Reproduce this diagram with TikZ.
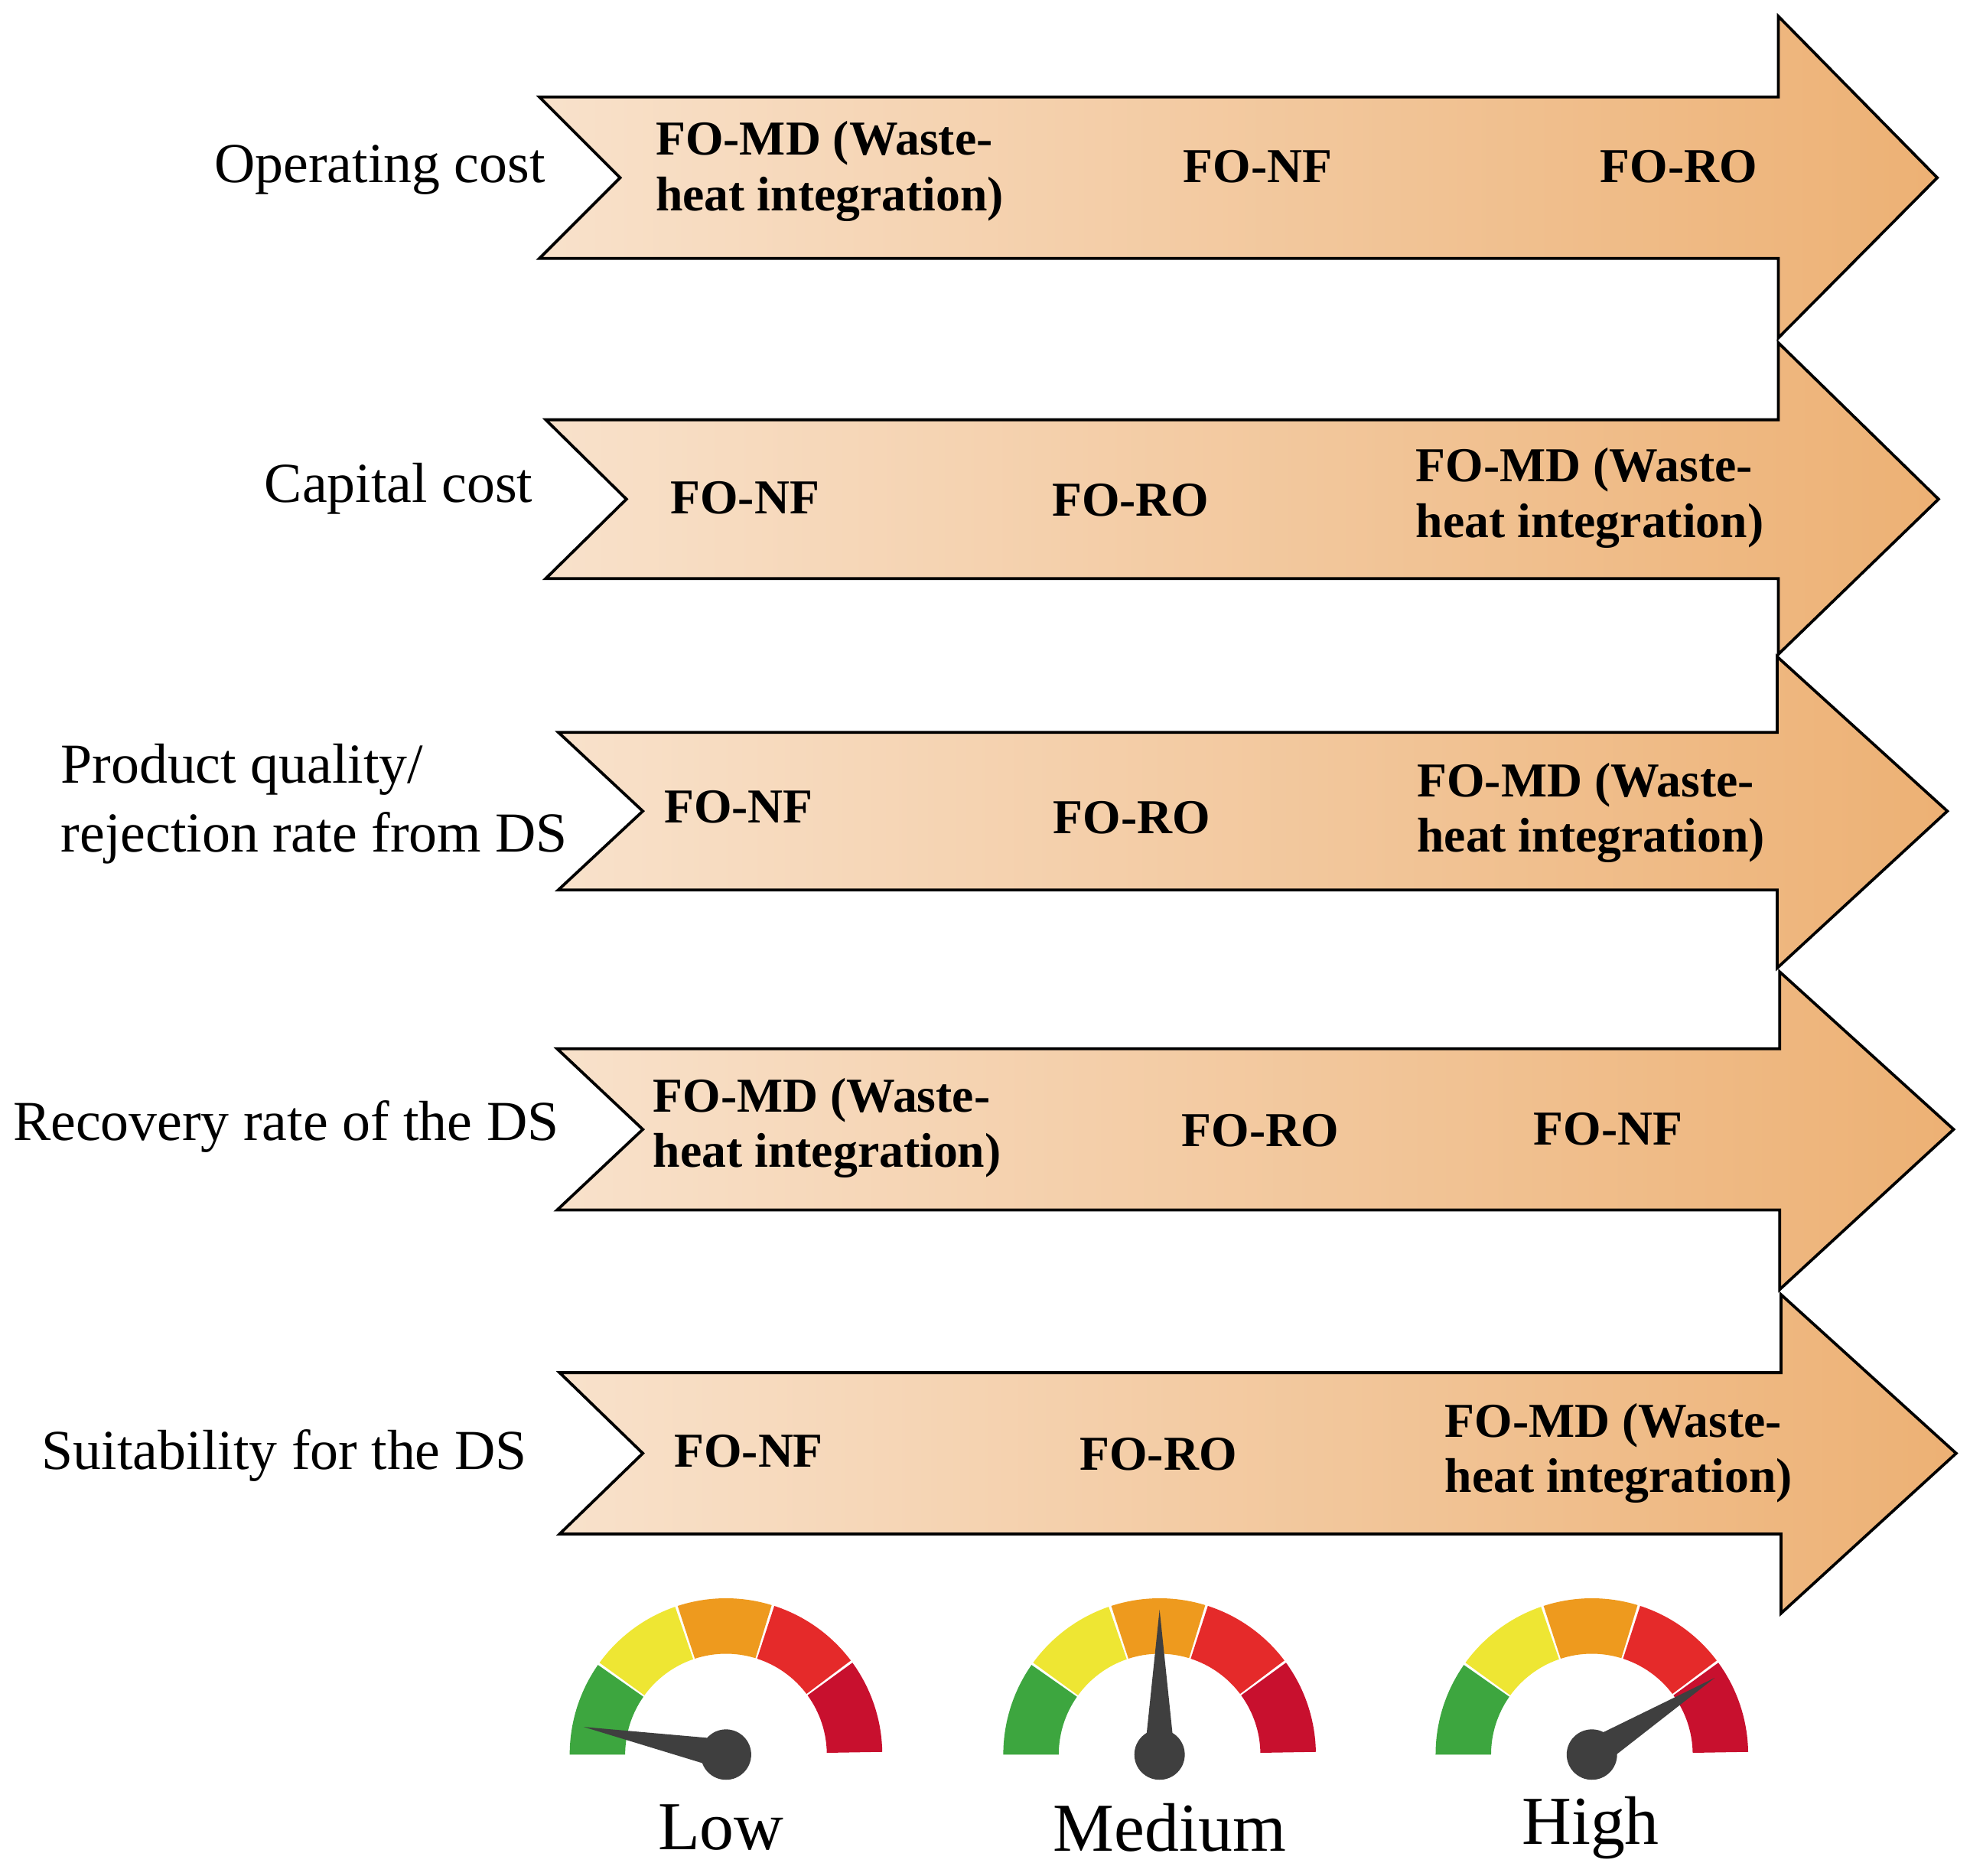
\documentclass[tikz,border=0pt]{standalone}
\usepackage{fontspec}
\setmainfont{Liberation Serif}
\definecolor{lo}{HTML}{FCF0E5}
\definecolor{hi}{HTML}{EBAA68}
\definecolor{tp}{HTML}{F3CBA3}
\definecolor{gG}{HTML}{3DA63F}
\definecolor{gY}{HTML}{EEE633}
\definecolor{gO}{HTML}{EE9A1E}
\definecolor{gR}{HTML}{E52A2A}
\definecolor{gC}{HTML}{C8102E}
\definecolor{nd}{HTML}{3F3F3F}
\pgfdeclarehorizontalshading{arr}{100bp}{color(0bp)=(lo); color(10bp)=(lo); color(82bp)=(hi); color(92bp)=(hi); color(100bp)=(tp)}
\tikzset{
 arrow/.style={draw=black,line width=1.3pt,shading=arr,shading angle=0},
 item/.style={font=\bfseries\fontsize{22}{25}\selectfont,align=left,inner sep=0pt},
 lab/.style={font=\fontsize{25.5}{31}\selectfont,align=left,inner sep=0pt},
 glab/.style={font=\fontsize{31}{34}\selectfont,inner sep=0pt}
}
\newcommand{\gauge}[3]{% cx cy needle angle
 \begin{scope}[shift={(#1,#2)},yscale=-1]
  \foreach \a/\c in {180/gG,144/gY,108/gO,72/gR,36/gC}{
   \fill[\c] (\a:124) arc[start angle=\a,end angle=\a-35,radius=124] -- (\a-35:80) arc[start angle=\a-35,end angle=\a,radius=80] -- cycle;}
  \fill[nd] (0,0) circle (20);
  \fill[nd] (#3+90:12) -- (#3:115) -- (#3-90:12) -- cycle;
 \end{scope}}
\begin{document}
\begin{tikzpicture}[x=0.02cm,y=-0.02cm]
\useasboundingbox (0,0) rectangle (1563,1488);
\foreach \L/\T/\B/\N/\S/\HT/\HB/\X [count=\i] in
 {428/77/205/492/1411/13/268/1537,
  433/333/459/497/1411/272/519/1538,
  443/581/706/510/1410/521/768/1545,
  442/832/960/510/1412/771/1023/1550,
  444/1089/1217/510/1413/1027/1280/1552}{
 \pgfmathsetmacro{\M}{(\T+\B)/2}
 \path[arrow] (\L,\T) -- (\S,\T) -- (\S,\HT) -- (\X,\M) -- (\S,\HB) -- (\S,\B) -- (\L,\B) -- (\N,\M) -- cycle;
}
\node[lab,anchor=east] (l1) at (433,135) {Operating cost};
\node[lab,anchor=east] (l2) at (423,388) {Capital cost};
\node[lab,anchor=west] (l3) at (48,638) {Product quality/\\rejection rate from DS};
\node[lab,anchor=west] (l4) at (10,894) {Recovery rate of the DS};
\node[lab,anchor=west] (l5) at (33,1155) {Suitability for the DS};
\node[item,anchor=west] (a1) at (520,136) {FO-MD (Waste-\\heat integration)};
\node[item] (a2) at (998,132) {FO-NF};
\node[item] (a3) at (1332,132) {FO-RO};
\node[item] (b1) at (591,395) {FO-NF};
\node[item] (b2) at (897,397) {FO-RO};
\node[item,anchor=west] (b3) at (1123,395) {FO-MD (Waste-\\heat integration)};
\node[item] (c1) at (586,640) {FO-NF};
\node[item] (c2) at (898,649) {FO-RO};
\node[item,anchor=west] (c3) at (1124,645) {FO-MD (Waste-\\heat integration)};
\node[item,anchor=west] (d1) at (518,895) {FO-MD (Waste-\\heat integration)};
\node[item] (d2) at (1000,897) {FO-RO};
\node[item] (d3) at (1276,896) {FO-NF};
\node[item] (e1) at (594,1151) {FO-NF};
\node[item] (e2) at (919,1154) {FO-RO};
\node[item,anchor=west] (e3) at (1146,1153) {FO-MD (Waste-\\heat integration)};
\gauge{576}{1392}{169}
\gauge{920}{1392}{90}
\gauge{1263}{1392}{32}
\node[glab] (g1) at (572,1450) {Low};
\node[glab] (g2) at (928,1450) {Medium};
\node[glab] (g3) at (1262,1450) {High};
\end{tikzpicture}
\end{document}
